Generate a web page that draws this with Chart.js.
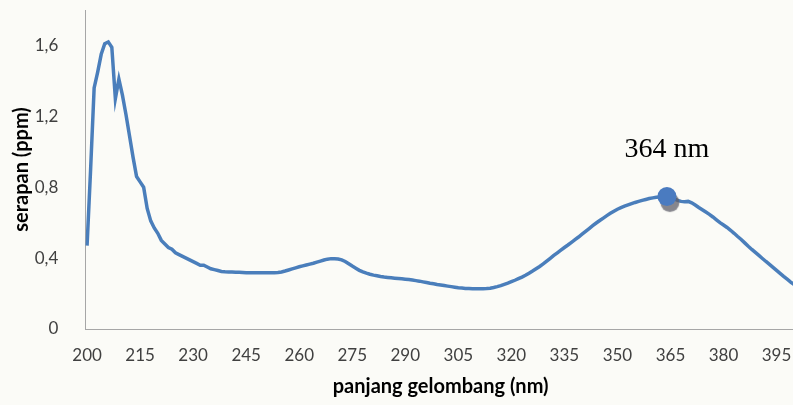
<!DOCTYPE html>
<html>
<head>
<meta charset="utf-8">
<script src="https://cdn.jsdelivr.net/npm/chart.js@4/dist/chart.umd.min.js"></script>
<style>
  html, body { margin: 0; padding: 0; background: #fbfbf7; overflow: hidden; }
  #wrap { position: relative; width: 796px; height: 405px; }
</style>
</head>
<body>
<div id="wrap"><canvas id="c"></canvas></div>
<script>
// Absorption spectrum, 200–400 nm in 1 nm steps
const wavelengths = [];
for (let w = 200; w <= 400; w++) wavelengths.push(w);

const absorbance = [
  0.47, 0.90, 1.36, 1.45, 1.55, 1.61, 1.62, 1.59, 1.30, 1.41,   // 200-209
  1.32, 1.21, 1.09, 0.97, 0.86, 0.83, 0.80, 0.68, 0.61, 0.57,   // 210-219
  0.54, 0.50, 0.48, 0.46, 0.45, 0.43, 0.42, 0.41, 0.40, 0.39,   // 220-229
  0.38, 0.37, 0.36, 0.36, 0.35, 0.34, 0.335, 0.33, 0.325, 0.323, // 230-239
  0.322, 0.321, 0.32, 0.32, 0.319, 0.318, 0.318, 0.318, 0.318, 0.318, // 240-249
  0.318, 0.318, 0.318, 0.318, 0.319, 0.322, 0.327, 0.333, 0.339, 0.345, // 250-259
  0.351, 0.356, 0.361, 0.366, 0.371, 0.377, 0.383, 0.389, 0.394, 0.397, // 260-269
  0.397, 0.395, 0.39, 0.381, 0.368, 0.355, 0.343, 0.331, 0.322, 0.315, // 270-279
  0.309, 0.304, 0.30, 0.296, 0.293, 0.291, 0.289, 0.287, 0.285, 0.283, // 280-289
  0.281, 0.279, 0.276, 0.273, 0.27, 0.266, 0.262, 0.258, 0.255, 0.251, // 290-299
  0.248, 0.245, 0.242, 0.239, 0.236, 0.233, 0.231, 0.229, 0.228, 0.227, // 300-309
  0.227, 0.227, 0.227, 0.228, 0.23, 0.234, 0.239, 0.245, 0.252, 0.259, // 310-319
  0.267, 0.275, 0.284, 0.293, 0.303, 0.315, 0.327, 0.34, 0.353, 0.367, // 320-329
  0.383, 0.399, 0.415, 0.43, 0.445, 0.46, 0.474, 0.489, 0.504, 0.519, // 330-339
  0.535, 0.551, 0.567, 0.583, 0.598, 0.612, 0.626, 0.64, 0.653, 0.665, // 340-349
  0.676, 0.685, 0.693, 0.70, 0.707, 0.714, 0.72, 0.726, 0.731, 0.736, // 350-359
  0.74, 0.743, 0.745, 0.746, 0.748, 0.742, 0.735, 0.726, 0.72, 0.718, // 360-369
  0.72, 0.712, 0.70, 0.686, 0.673, 0.66, 0.647, 0.632, 0.616, 0.60,  // 370-379
  0.587, 0.573, 0.557, 0.54, 0.522, 0.505, 0.486, 0.467, 0.449, 0.432, // 380-389
  0.415, 0.398, 0.381, 0.365, 0.348, 0.331, 0.314, 0.297, 0.281, 0.265, // 390-399
  0.25                                                                  // 400
];

const peakWavelength = 364;
const xTicks = [200, 215, 230, 245, 260, 275, 290, 305, 320, 335, 350, 365, 380, 395];
const yTicks = [0, 0.4, 0.8, 1.2, 1.6];

const spectrum = wavelengths.map((w, i) => ({ x: w, y: absorbance[i] }));
const peakPoint = [{ x: peakWavelength, y: absorbance[wavelengths.indexOf(peakWavelength)] }];

// Soft drop shadow under the peak marker
const markerShadow = {
  id: 'markerShadow',
  beforeDatasetDraw(chart, args) {
    if (args.index !== 0) return;
    const ctx = chart.ctx;
    ctx.save();
    ctx.shadowColor = 'rgba(95,95,105,0.75)';
    ctx.shadowOffsetX = 3;
    ctx.shadowOffsetY = 6;
    ctx.shadowBlur = 1;
  },
  afterDatasetDraw(chart, args) {
    if (args.index !== 0) return;
    chart.ctx.restore();
  }
};

// Wavelength label above the peak marker
const peakLabel = {
  id: 'peakLabel',
  afterDatasetsDraw(chart) {
    const pt = chart.getDatasetMeta(0).data[0];
    const ctx = chart.ctx;
    ctx.save();
    ctx.font = '28px "Liberation Serif", "Times New Roman", serif';
    ctx.fillStyle = '#000000';
    ctx.textAlign = 'center';
    ctx.textBaseline = 'alphabetic';
    ctx.fillText(peakWavelength + ' nm', pt.x, pt.y - 39);
    ctx.restore();
  }
};

const tickFont = { family: 'Lato, "Open Sans", sans-serif', size: 17 };
const xTitleFont = { family: 'Lato, "Open Sans", sans-serif', size: 20, weight: 'bold' };
const yTitleFont = { family: 'Lato, "Open Sans", sans-serif', size: 20, weight: 'bold' };

new Chart(document.getElementById('c'), {
  type: 'line',
  data: {
    datasets: [
      {
        type: 'scatter',
        data: peakPoint,
        pointRadius: 9.5,
        pointHoverRadius: 9.5,
        backgroundColor: '#4a7bc0',
        borderColor: '#4a7bc0',
        borderWidth: 0,
        order: 0
      },
      {
        data: spectrum,
        borderColor: '#4a7ebb',
        borderWidth: 3.5,
        pointRadius: 0,
        tension: 0,
        fill: false,
        order: 1
      }
    ]
  },
  options: {
    responsive: true,
    maintainAspectRatio: false,
    animation: false,
    events: [],
    layout: { autoPadding: false, padding: { top: 10, right: 0, bottom: 0, left: 0 } },
    plugins: { legend: { display: false }, tooltip: { enabled: false } },
    scales: {
      x: {
        type: 'linear',
        min: 199.5,
        max: 400.5,
        grid: { display: false },
        border: { display: true, color: '#a6a6a6', width: 1 },
        afterBuildTicks: s => { s.ticks = xTicks.map(v => ({ value: v })); },
        afterFit: s => { s.height = 76; s.paddingLeft = 0; s.paddingRight = 0; },
        ticks: {
          autoSkip: false,
          maxRotation: 0,
          padding: 8,
          color: '#404040',
          font: tickFont,
          callback: v => String(v)
        },
        title: {
          display: true,
          text: 'panjang gelombang (nm)',
          color: '#000000',
          font: xTitleFont,
          padding: { top: 0, bottom: 6 }
        }
      },
      y: {
        min: 0,
        max: 1.8,
        grid: { display: false },
        border: { display: true, color: '#a6a6a6', width: 1 },
        afterBuildTicks: s => { s.ticks = yTicks.map(v => ({ value: v })); },
        afterFit: s => { s.width = 85.3; s.paddingTop = 0; s.paddingBottom = 0; },
        ticks: {
          padding: 19,
          color: '#404040',
          font: tickFont,
          callback: v => (v === 0 ? '0' : v.toFixed(1).replace('.', ','))
        },
        title: {
          display: true,
          text: 'serapan (ppm)',
          color: '#000000',
          font: yTitleFont,
          padding: { top: 10, bottom: 0 }
        }
      }
    }
  },
  plugins: [markerShadow, peakLabel]
});
</script>
</body>
</html>
